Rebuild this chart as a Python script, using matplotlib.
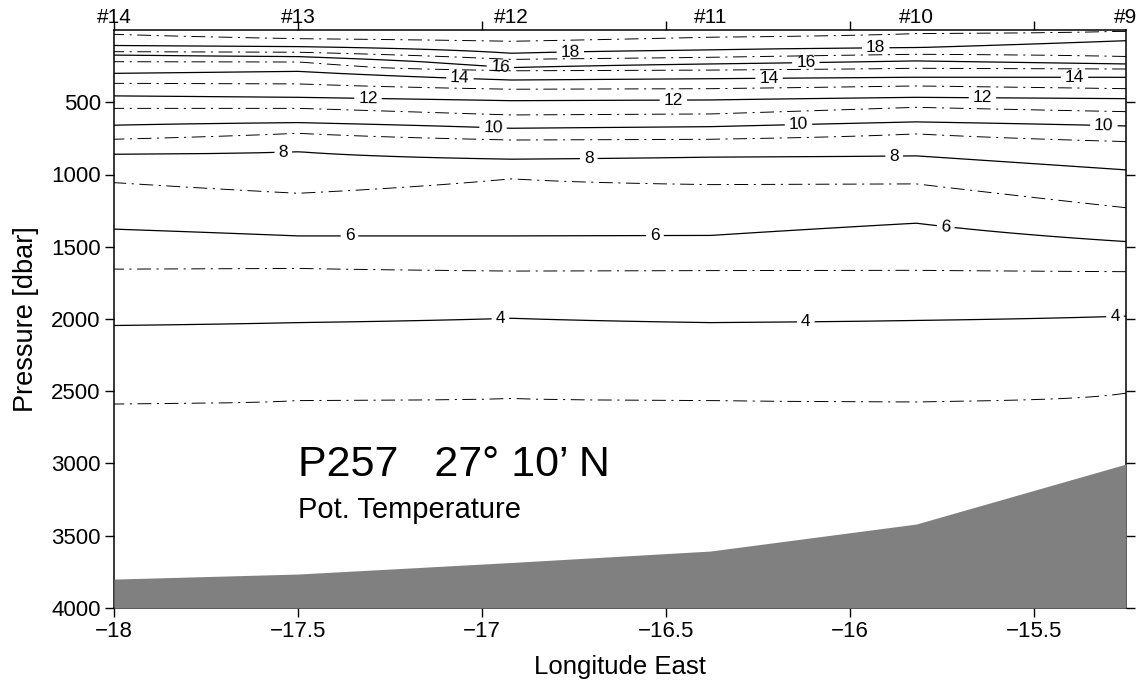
import numpy as np
import matplotlib
matplotlib.use('Agg')
import matplotlib.pyplot as plt
from matplotlib import transforms

plt.rcParams['font.family'] = ['Liberation Sans', 'DejaVu Sans']
plt.rcParams['lines.scale_dashes'] = False
plt.rcParams['lines.dashdot_pattern'] = [10, 4, 1.5, 4]

# ---------------- data ----------------
station_lon = [-18.0, -17.5, -16.92, -16.38, -15.82, -15.25]
station_names = ['#14', '#13', '#12', '#11', '#10', '#9']
bottom_depth = [3800, 3765, 3685, 3606, 3419, 3004]

iso_temps = [19, 18, 17, 16, 15, 14, 13, 12, 11, 10, 9, 8, 7, 6, 5, 4, 3]
iso_19 = [30, 60, 78, 50, 25, 8]
iso_18 = [108, 115, 161, 138, 122, 74]
iso_17 = [150, 154, 203, 189, 168, 184]
iso_16 = [173, 184, 260, 235, 214, 235]
iso_15 = [219, 221, 281, 277, 265, 270]
iso_14 = [300, 286, 346, 337, 327, 327]
iso_13 = [369, 373, 410, 406, 387, 406]
iso_12 = [456, 466, 489, 484, 466, 475]
iso_11 = [542, 542, 588, 581, 535, 565]
iso_10 = [659, 641, 680, 669, 636, 664]
iso_9 = [756, 715, 761, 756, 719, 772]
iso_8 = [860, 842, 894, 880, 871, 968]
iso_7 = [1056, 1130, 1030, 1070, 1065, 1230]
iso_6 = [1378, 1425, 1425, 1422, 1337, 1464]
iso_5 = [1655, 1650, 1668, 1665, 1663, 1672]
iso_4 = [2045, 2025, 1995, 2025, 2010, 1980]
iso_3 = [2587, 2564, 2550, 2564, 2573, 2513]
surface_temp = 20.0
deep_temp = 2.3

xtick_values = [-18, -17.5, -17, -16.5, -16, -15.5]
ytick_values = [500, 1000, 1500, 2000, 2500, 3000, 3500, 4000]

# ---------------- build field ----------------
iso_depths = np.array([iso_19, iso_18, iso_17, iso_16, iso_15, iso_14, iso_13,
                       iso_12, iso_11, iso_10, iso_9, iso_8, iso_7, iso_6,
                       iso_5, iso_4, iso_3], dtype=float)
p_grid = np.arange(0, 4001, 5)
lon = np.array(station_lon)
T = np.empty((p_grid.size, lon.size))
for j in range(lon.size):
    d = np.concatenate([[0.0], iso_depths[:, j], [4000.0]])
    t = np.concatenate([[surface_temp], iso_temps, [deep_temp]])
    T[:, j] = np.interp(p_grid, d, t)

odd_levels = [t for t in sorted(iso_temps) if t % 2 == 1]
even_levels = [t for t in sorted(iso_temps) if t % 2 == 0]

# ---------------- figure ----------------
fig = plt.figure(figsize=(11.42, 6.88), dpi=100)
ax = fig.add_axes([114 / 1142, 1 - 608 / 688, (1126 - 114) / 1142, (608 - 30) / 688])
ax.set_xlim(-18, -15.25)
ax.set_ylim(4000, 0)

cs_odd = ax.contour(lon, p_grid, T, levels=odd_levels, colors='k',
                    linewidths=0.7, linestyles='dashdot')
cs_even = ax.contour(lon, p_grid, T, levels=even_levels, colors='k',
                     linewidths=0.9, linestyles='solid')

label_pos = [(-16.76, 152), (-15.93, 124),
             (-16.95, 249), (-16.12, 221),
             (-17.06, 339), (-16.22, 332), (-15.39, 325),
             (-17.31, 477), (-16.48, 491), (-15.64, 463),
             (-16.97, 678), (-16.14, 657), (-15.31, 657),
             (-17.54, 844), (-16.71, 885), (-15.88, 878),
             (-17.36, 1425), (-16.53, 1432), (-15.74, 1369),
             (-16.95, 1992), (-16.12, 2026), (-15.28, 1978)]
ax.clabel(cs_even, manual=label_pos, inline=True, fmt='%d', fontsize=12.5,
          inline_spacing=4)

ax.fill_between(lon, bottom_depth, 4000, color='#808080', lw=0, zorder=3)

ax.set_xticks(xtick_values)
ax.set_xticklabels([f'{v:g}'.replace('-', '\u2212') for v in xtick_values])
ax.set_yticks(ytick_values)
ax.set_yticklabels([str(v) for v in ytick_values])
ax.tick_params(axis='both', which='both', direction='out', length=6.5, width=1,
               top=True, right=True, labeltop=False, labelright=False,
               labelsize=16, pad=3)
for s in ax.spines.values():
    s.set_linewidth(1.1)

ax.set_xlabel('Longitude East', fontsize=18.5, labelpad=9)
ax.set_ylabel('Pressure [dbar]', fontsize=19.5, labelpad=9)

trans = transforms.blended_transform_factory(ax.transData, ax.transAxes)
for x, name in zip(station_lon, station_names):
    ax.text(x, 1.006, name, transform=trans, ha='center', va='bottom',
            fontsize=15, clip_on=False)

ax.text(-17.5, 3085, 'P257   27\u00b0 10\u2019 N', fontsize=31, ha='left',
        va='baseline', zorder=5)
ax.text(-17.5, 3375, 'Pot. Temperature', fontsize=21, ha='left',
        va='baseline', zorder=5)

fig.savefig('out.png', dpi=100)
